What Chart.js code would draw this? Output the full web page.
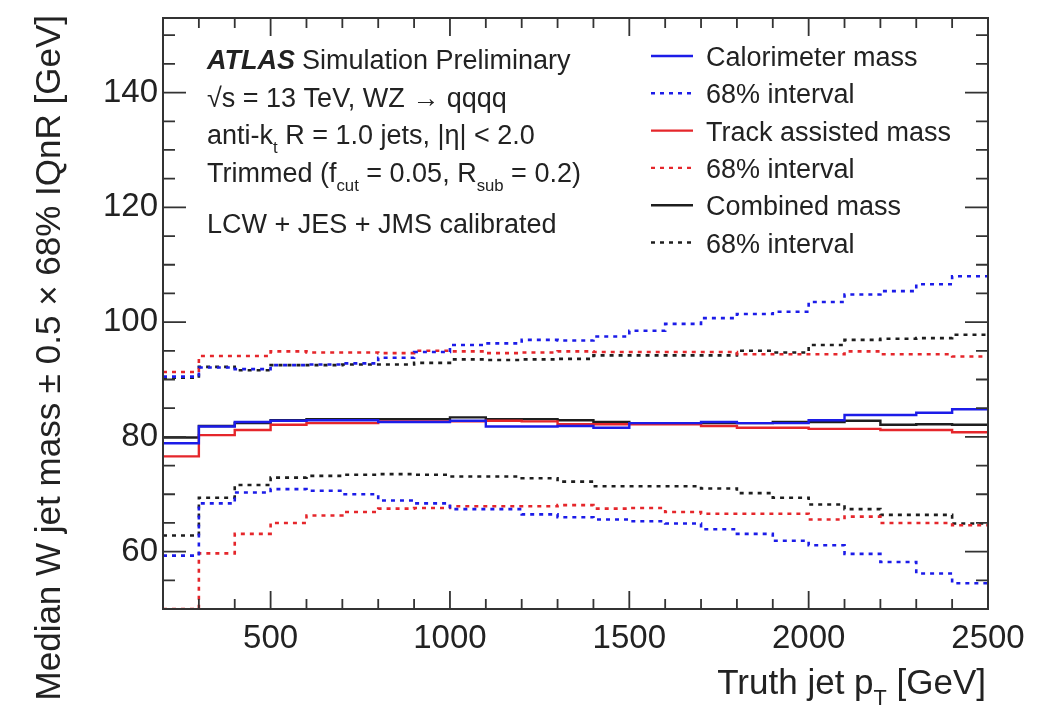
<!DOCTYPE html>
<html>
<head>
<meta charset="utf-8">
<script src="https://cdn.jsdelivr.net/npm/chart.js@4.4.1/dist/chart.umd.min.js"></script>
<style>
  html, body { margin: 0; padding: 0; background: #fff; }
  #wrap { width: 1040px; height: 709px; }
</style>
</head>
<body>
<div id="wrap"><canvas id="massChart" width="1040" height="709"></canvas></div>
<script>
// bin edges in truth jet pT [GeV]
const binEdges = [200, 300, 400, 500, 600, 700, 800, 900, 1000, 1100, 1200, 1300,
                  1400, 1500, 1600, 1700, 1800, 1900, 2000, 2100, 2200, 2300, 2400, 2500];

// median mass per bin
const caloMedian  = [78.9, 81.8, 82.6, 82.8, 82.9, 82.9, 82.6, 82.6, 82.8, 81.8, 81.8, 81.9,
                     81.6, 82.4, 82.4, 82.6, 82.4, 82.4, 82.9, 83.8, 83.8, 84.2, 84.8];
const trackMedian = [76.6, 80.3, 81.2, 82.1, 82.4, 82.4, 82.7, 82.7, 82.7, 82.8, 82.7, 82.2,
                     82.2, 82.2, 82.2, 81.9, 81.6, 81.6, 81.4, 81.4, 81.2, 81.2, 80.8];
const combMedian  = [79.9, 81.9, 82.4, 82.9, 83.1, 83.1, 83.1, 83.1, 83.4, 83.1, 83.1, 82.9,
                     82.6, 82.4, 82.4, 82.4, 82.4, 82.6, 82.6, 82.8, 82.1, 82.2, 82.1];

// median +- 0.5 x 68% interval
const caloUpper  = [90.5, 92.1, 91.8, 92.5, 92.6, 92.8, 93.8, 94.8, 96.0, 96.3, 96.9, 96.8,
                    97.5, 98.5, 99.7, 100.7, 101.4, 101.8, 103.5, 104.8, 105.4, 106.6, 108.0];
const caloLower  = [59.3, 68.4, 70.3, 70.9, 70.6, 70.0, 68.9, 68.4, 67.4, 67.4, 66.5, 66.0,
                    65.6, 65.3, 64.9, 63.9, 63.1, 61.9, 61.1, 59.6, 58.2, 56.2, 54.5];
const trackUpper = [91.3, 94.1, 94.1, 94.9, 94.7, 94.7, 94.6, 95.0, 94.9, 94.6, 94.7, 94.9,
                    94.8, 94.8, 94.8, 94.8, 94.4, 94.4, 94.4, 94.9, 94.4, 94.4, 94.0];
const trackLower = [50.0, 59.7, 63.1, 65.0, 66.3, 66.9, 67.5, 67.6, 67.9, 67.9, 67.9, 68.1,
                    67.5, 67.6, 66.9, 66.6, 66.6, 66.6, 65.6, 66.1, 65.0, 65.0, 64.6];
const combUpper  = [90.3, 92.2, 91.6, 92.5, 92.5, 92.6, 92.6, 92.9, 93.5, 93.4, 93.5, 93.6,
                    94.2, 94.2, 94.2, 94.2, 95.0, 94.7, 96.0, 96.9, 97.1, 97.2, 97.8];
const combLower  = [62.8, 69.4, 71.6, 72.9, 73.2, 73.4, 73.5, 73.4, 73.1, 73.1, 72.8, 72.2,
                    71.4, 71.4, 71.4, 71.0, 70.2, 69.4, 68.2, 67.4, 66.4, 66.4, 64.9];

const xTicks = [500, 1000, 1500, 2000, 2500];
const yTicks = [60, 80, 100, 120, 140];

const BLUE = '#1c1ce8', RED = '#e5262b', BLACK = '#1e1e1e';
const FONT = '"Liberation Sans", Arial, Helvetica, sans-serif';

// histogram -> step points (last edge repeats the last bin value)
function steps(vals) {
    const pts = vals.map((v, i) => ({ x: binEdges[i], y: v }));
    pts.push({ x: binEdges[binEdges.length - 1], y: vals[vals.length - 1] });
    return pts;
}

function hist(label, vals, color, dashed) {
    return {
        label: label,
        data: steps(vals),
        stepped: 'before',
        borderColor: color,
        borderWidth: dashed ? 2.6 : 2.4,
        borderDash: dashed ? [4, 5] : [],
        pointRadius: 0,
        fill: false
    };
}

const legendRows = [
    { text: 'Calorimeter mass', color: BLUE, dashed: false },
    { text: '68% interval', color: BLUE, dashed: true },
    { text: 'Track assisted mass', color: RED, dashed: false },
    { text: '68% interval', color: RED, dashed: true },
    { text: 'Combined mass', color: BLACK, dashed: false },
    { text: '68% interval', color: BLACK, dashed: true }
];

// draw a line of text made of parts: [text, kind] kind = n | bi | sub
function richText(ctx, x, y, parts, size) {
    let cx = x;
    parts.forEach(([t, kind]) => {
        let s = size, dy = 0, w = 'normal', st = 'normal';
        if (kind === 'sub') { s = size * 0.62; dy = size * 0.32; }
        if (kind === 'bi') { w = 'bold'; st = 'italic'; }
        ctx.font = `${st} ${w} ${s}px ${FONT}`;
        ctx.fillText(t, cx, y + dy);
        cx += ctx.measureText(t).width;
    });
    return cx;
}

function noPad(s) {
    s.paddingTop = 0; s.paddingBottom = 0;
    s.paddingLeft = 0; s.paddingRight = 0;
}

const decor = {
    id: 'decor',
    afterDraw(chart) {
        const ctx = chart.ctx;
        const a = chart.chartArea;
        const xs = chart.scales.x, ys = chart.scales.y;
        ctx.save();

        // inside ticks, all four sides
        ctx.strokeStyle = '#333';
        ctx.lineWidth = 1.8;
        ctx.beginPath();
        for (let v = 50; v <= 150; v += 5) {
            const py = ys.getPixelForValue(v);
            const len = v % 20 === 0 ? 23 : 12;
            ctx.moveTo(a.left, py); ctx.lineTo(a.left + len, py);
            ctx.moveTo(a.right, py); ctx.lineTo(a.right - len, py);
        }
        for (let v = 200; v <= 2500; v += 100) {
            const px = xs.getPixelForValue(v);
            const len = v % 500 === 0 ? 18 : 10;
            ctx.moveTo(px, a.bottom); ctx.lineTo(px, a.bottom - len);
            ctx.moveTo(px, a.top); ctx.lineTo(px, a.top + len);
        }
        ctx.stroke();

        // frame
        ctx.lineWidth = 2;
        ctx.strokeRect(a.left, a.top, a.right - a.left, a.bottom - a.top);

        ctx.fillStyle = '#222';
        ctx.textBaseline = 'alphabetic';
        ctx.textAlign = 'left';

        // annotation block
        const ax = 207, asz = 27;
        let nx = richText(ctx, ax, 69, [['ATLAS', 'bi']], asz);
        richText(ctx, nx + 7, 69, [['Simulation Preliminary', 'n']], asz);
        richText(ctx, ax, 107, [['\u221As = 13 TeV, WZ \u2192 qqqq', 'n']], asz);
        richText(ctx, ax, 144, [['anti-k', 'n'], ['t', 'sub'], [' R = 1.0 jets, |\u03B7| < 2.0', 'n']], asz);
        richText(ctx, ax, 182, [['Trimmed (f', 'n'], ['cut', 'sub'], [' = 0.05, R', 'n'], ['sub', 'sub'], [' = 0.2)', 'n']], asz);
        richText(ctx, ax, 233, [['LCW + JES + JMS calibrated', 'n']], asz);

        // legend
        legendRows.forEach((r, i) => {
            const cy = 56 + i * 37.3;
            ctx.strokeStyle = r.color;
            ctx.lineWidth = 2.4;
            ctx.setLineDash(r.dashed ? [4, 5] : []);
            ctx.beginPath();
            ctx.moveTo(651, cy); ctx.lineTo(693, cy);
            ctx.stroke();
            ctx.setLineDash([]);
            ctx.fillStyle = '#222';
            richText(ctx, 706, cy + 10, [[r.text, 'n']], asz);
        });

        // x title, right aligned near the axis end
        const tsz = 35, right = 986;
        const t1 = 'Truth jet p', t2 = 'T', t3 = ' [GeV]';
        ctx.font = `${tsz}px ${FONT}`;
        const w1 = ctx.measureText(t1).width, w3 = ctx.measureText(t3).width;
        ctx.font = `${tsz * 0.62}px ${FONT}`;
        const w2 = ctx.measureText(t2).width;
        richText(ctx, right - w1 - w2 - w3, 694, [[t1, 'n'], [t2, 'sub'], [t3, 'n']], tsz);

        // y title, rotated, right aligned at the top
        ctx.translate(60, 15);
        ctx.rotate(-Math.PI / 2);
        ctx.textAlign = 'right';
        ctx.textBaseline = 'alphabetic';
        ctx.font = `35px ${FONT}`;
        ctx.fillText('Median W jet mass \u00B1 0.5 \u00D7 68% IQnR [GeV]', 0, 0);
        ctx.restore();
    }
};

const ctx = document.getElementById('massChart').getContext('2d');
const massChart = new Chart(ctx, {
    type: 'line',
    data: {
        datasets: [
            hist('Calorimeter 68% upper', caloUpper, BLUE, true),
            hist('Calorimeter 68% lower', caloLower, BLUE, true),
            hist('Track 68% upper', trackUpper, RED, true),
            hist('Track 68% lower', trackLower, RED, true),
            hist('Combined 68% upper', combUpper, BLACK, true),
            hist('Combined 68% lower', combLower, BLACK, true),
            hist('Calorimeter mass', caloMedian, BLUE, false),
            hist('Track assisted mass', trackMedian, RED, false),
            hist('Combined mass', combMedian, BLACK, false)
        ]
    },
    options: {
        responsive: false,
        animation: false,
        layout: { padding: { top: 18, right: 52, left: 0, bottom: 0 } },
        plugins: {
            legend: { display: false },
            tooltip: { enabled: false }
        },
        scales: {
            x: {
                type: 'linear',
                min: 200,
                max: 2500,
                grid: { display: false, drawTicks: false },
                border: { display: false },
                afterBuildTicks: (s) => { s.ticks = xTicks.map(v => ({ value: v })); },
                afterFit: (s) => { s.height = 100; noPad(s); },
                ticks: {
                    padding: 10,
                    color: '#222',
                    font: { family: FONT, size: 33 },
                    maxRotation: 0,
                    autoSkip: false,
                    callback: (v) => String(v)
                }
            },
            y: {
                min: 50,
                max: 153,
                grid: { display: false, drawTicks: false },
                border: { display: false },
                afterBuildTicks: (s) => { s.ticks = yTicks.map(v => ({ value: v })); },
                afterFit: (s) => { s.width = 163; noPad(s); },
                ticks: {
                    padding: 5,
                    color: '#222',
                    font: { family: FONT, size: 33 },
                    callback: (v) => String(v)
                }
            }
        }
    },
    plugins: [decor]
});
</script>
</body>
</html>
